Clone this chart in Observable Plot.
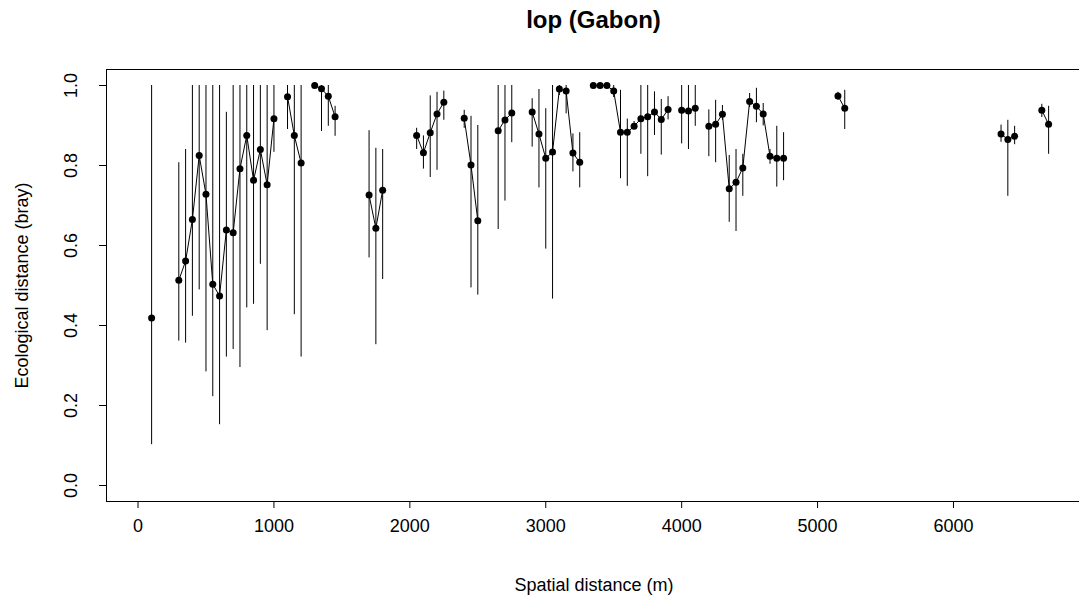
<!DOCTYPE html>
<html>
<head>
<meta charset="utf-8">
<script src="https://cdn.jsdelivr.net/npm/d3@7"></script>
<script src="https://cdn.jsdelivr.net/npm/@observablehq/plot@0.6"></script>
<style>
  html, body { margin: 0; padding: 0; background: white; overflow: hidden; }
  #wrap { width: 1079px; height: 607px; overflow: hidden; position: relative; }
  #title { margin-left: 106px; width: 975px; height: 45px; box-sizing: border-box; padding-top: 8px;
           text-align: center; font: bold 24px "Liberation Sans", Arial, sans-serif; line-height: 1; color: black; }
</style>
</head>
<body>
<div id="wrap">
  <div id="title">lop (Gabon)</div>
  <div id="chart"></div>
</div>
<script>
const dist = [100, 300, 350, 400, 450, 500, 550, 600, 650, 700, 750, 800, 850, 900, 950, 1000,
  1100, 1150, 1200, 1300, 1350, 1400, 1450, 1700, 1750, 1800, 2050, 2100, 2150, 2200, 2250,
  2400, 2450, 2500, 2650, 2700, 2750, 2900, 2950, 3000, 3050, 3100, 3150, 3200, 3250,
  3350, 3400, 3450, 3500, 3550, 3600, 3650, 3700, 3750, 3800, 3850, 3900, 4000, 4050, 4100,
  4200, 4250, 4300, 4350, 4400, 4450, 4500, 4550, 4600, 4650, 4700, 4750, 5150, 5200,
  6350, 6400, 6450, 6650, 6700];
const bray = [0.419, 0.513, 0.561, 0.665, 0.825, 0.728, 0.503, 0.474, 0.639, 0.632, 0.792, 0.875, 0.763, 0.840, 0.752, 0.917,
  0.972, 0.875, 0.806, 1.000, 0.992, 0.973, 0.922, 0.726, 0.643, 0.738, 0.875, 0.832, 0.882, 0.929, 0.958,
  0.918, 0.801, 0.662, 0.887, 0.914, 0.931, 0.934, 0.879, 0.818, 0.834, 0.991, 0.986, 0.831, 0.808,
  1.000, 1.000, 1.000, 0.986, 0.883, 0.883, 0.898, 0.917, 0.922, 0.934, 0.915, 0.940, 0.938, 0.936, 0.943,
  0.898, 0.903, 0.928, 0.742, 0.758, 0.794, 0.960, 0.948, 0.929, 0.823, 0.818, 0.818, 0.974, 0.943,
  0.879, 0.865, 0.873, 0.938, 0.903];
const upper = [1.000, 0.807, 0.840, 1.000, 1.000, 1.000, 1.000, 1.000, 0.933, 1.000, 1.000, 1.000, 1.000, 1.000, 1.000, 1.000,
  1.000, 1.000, 1.000, 1.000, 1.000, 1.000, 0.948, 0.887, 0.843, 0.840, 0.893, 0.874, 0.974, 0.983, 0.986,
  0.938, 0.923, 0.900, 1.000, 1.000, 1.000, 0.967, 0.990, 0.942, 1.000, 1.000, 1.000, 0.879, 0.882,
  1.000, 1.000, 1.000, 1.000, 0.988, 0.916, 0.910, 1.000, 1.000, 0.984, 0.965, 0.972, 1.000, 1.000, 1.000,
  0.939, 0.963, 0.950, 0.825, 0.840, 0.828, 0.980, 0.993, 0.955, 0.840, 0.898, 0.882, 0.983, 0.988,
  0.901, 0.913, 0.898, 0.953, 0.948];
const lower = [0.102, 0.361, 0.356, 0.423, 0.489, 0.284, 0.222, 0.152, 0.321, 0.340, 0.295, 0.444, 0.453, 0.553, 0.387, 0.833,
  0.890, 0.427, 0.321, 1.000, 0.885, 0.898, 0.873, 0.569, 0.352, 0.515, 0.840, 0.791, 0.770, 0.788, 0.913,
  0.893, 0.494, 0.476, 0.640, 0.711, 0.857, 0.846, 0.744, 0.591, 0.466, 0.975, 0.929, 0.784, 0.744,
  1.000, 1.000, 1.000, 0.970, 0.767, 0.748, 0.890, 0.828, 0.772, 0.875, 0.826, 0.914, 0.854, 0.840, 0.898,
  0.822, 0.807, 0.913, 0.658, 0.635, 0.723, 0.945, 0.907, 0.899, 0.803, 0.746, 0.762, 0.963, 0.890,
  0.858, 0.723, 0.852, 0.920, 0.828];
const xTicks = [0, 1000, 2000, 3000, 4000, 5000, 6000];
const yTicks = [0, 0.2, 0.4, 0.6, 0.8, 1.0];
const title = "lop (Gabon)";
const xLabel = "Spatial distance (m)";
const yLabel = "Ecological distance (bray)";

// consecutive 50 m steps are joined by a line; gaps break the line
let run = 0;
const data = dist.map((d, i) => {
  if (i > 0 && d - dist[i - 1] > 50) run++;
  return {dist: d, bray: bray[i], lo: lower[i], hi: upper[i], run};
});

const chart = Plot.plot({
  width: 1081,
  height: 562,
  marginLeft: 106,
  marginRight: 0,
  marginTop: 24,
  marginBottom: 106,
  x: {domain: [-232, 6942]},
  y: {domain: [-0.04, 1.04]},
  style: {fontFamily: "'Liberation Sans', Arial, sans-serif", fontSize: "18px", background: "white", maxWidth: "none", color: "black"},
  marks: [
    Plot.axisX({ticks: xTicks, tickSize: 7, tickPadding: 11, tickFormat: d => String(d), label: null}),
    Plot.axisY({ticks: yTicks, tickSize: 7, tickFormat: () => "", label: null}),
    Plot.text(yTicks, {y: d => d, text: d => d.toFixed(1), frameAnchor: "left", dx: -35, rotate: -90,
      textAnchor: "middle", lineAnchor: "middle", fill: "black"}),
    Plot.text([yLabel], {text: d => d, frameAnchor: "left", dx: -84, rotate: -90,
      textAnchor: "middle", lineAnchor: "middle", fill: "black"}),
    Plot.text([xLabel], {text: d => d, frameAnchor: "bottom", dy: 84,
      textAnchor: "middle", lineAnchor: "middle", fill: "black"}),
    Plot.ruleX(data, {x: "dist", y1: "lo", y2: "hi", stroke: "black", strokeWidth: 1}),
    Plot.line(data, {x: "dist", y: "bray", z: "run", stroke: "black", strokeWidth: 1}),
    Plot.dot(data, {x: "dist", y: "bray", r: 3.5, fill: "black", stroke: "none"}),
    Plot.frame({stroke: "black"})
  ]
});
document.getElementById("chart").appendChild(chart);
</script>
</body>
</html>
